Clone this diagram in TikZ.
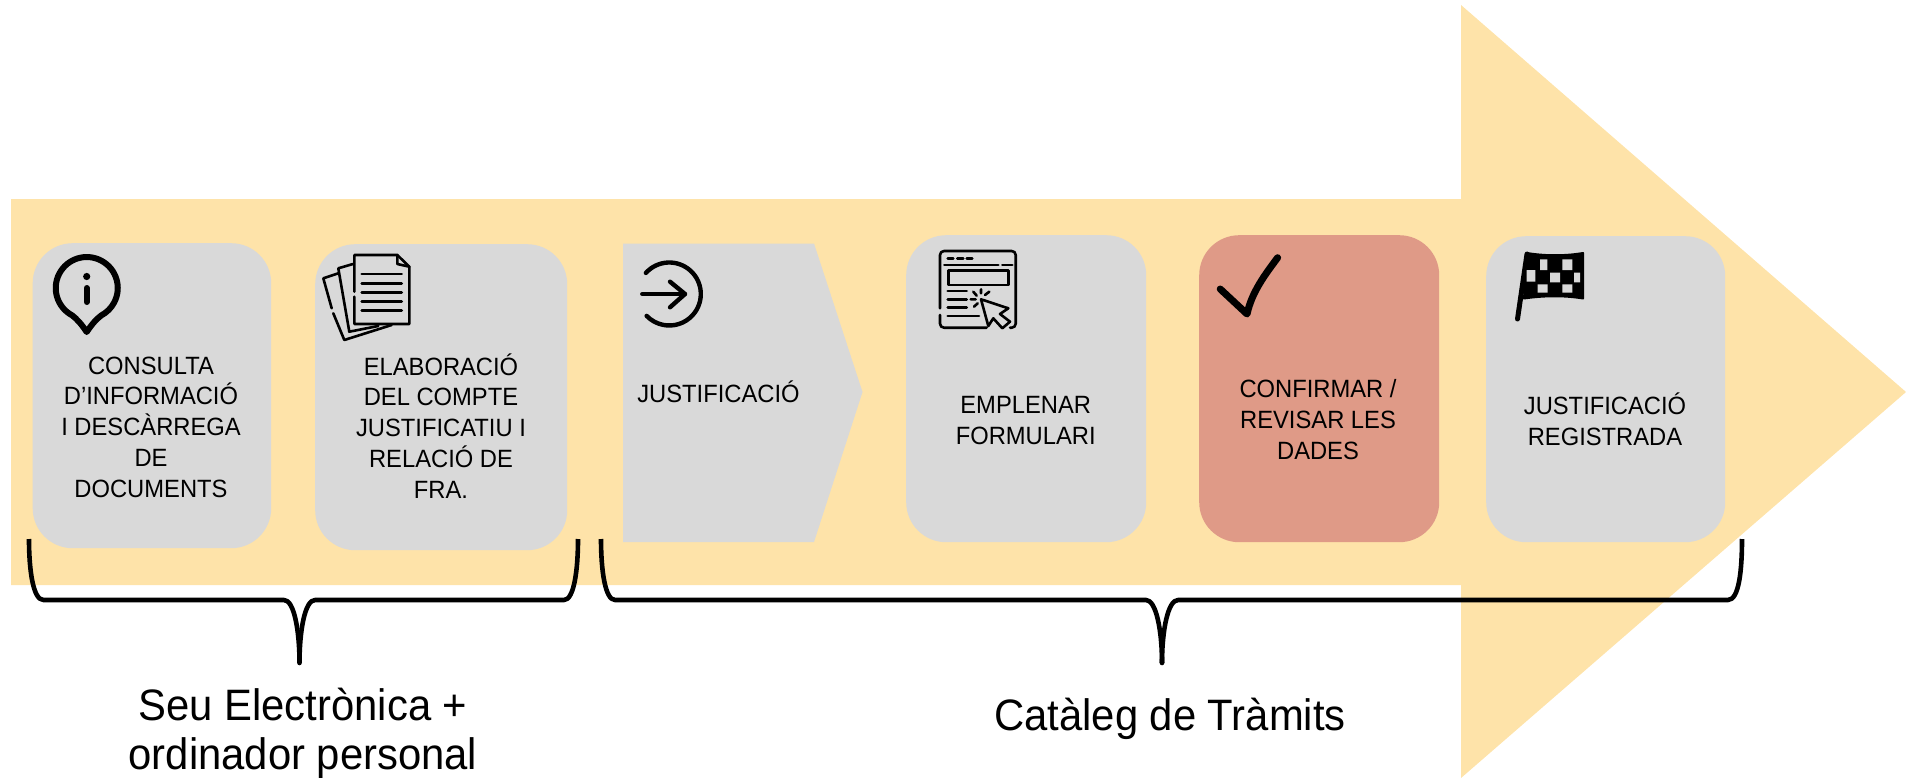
\documentclass[tikz,border=0pt]{standalone}
\usepackage{fontspec}
\setmainfont{Liberation Sans}[FakeStretch=0.95]
\definecolor{arrowcol}{HTML}{FEE3A9}
\definecolor{boxgray}{HTML}{D9D9D9}
\definecolor{boxred}{HTML}{DF9A87}
\tikzset{
  stepbox/.style={fill=boxgray,draw=none,rounded corners=40pt,inner sep=0pt,anchor=north west},
  steptext/.style={align=center,inner sep=0pt,anchor=base,font=\fontsize{25}{30.75}\selectfont},
  biglabel/.style={align=center,inner sep=0pt,anchor=base,font=\fontsize{44}{49}\selectfont},
  bracket/.style={draw=black,line width=4.6pt,line join=round},
  iconthin/.style={draw=black,line width=2.6pt,line cap=round,line join=round},
  iconthick/.style={draw=black,line width=4.4pt,line cap=round,line join=round},
}
\begin{document}
\begin{tikzpicture}[x=1pt,y=-1pt]
\useasboundingbox (0,0) rectangle (1910,778);
% big arrow
\fill[arrowcol] (11,199) -- (1461,199) -- (1461,5) -- (1906,392) -- (1461,778) -- (1461,585) -- (11,585) -- cycle;
% boxes
\node[stepbox,minimum width=238.5pt,minimum height=305pt] (b1) at (32.5,243) {};
\node[stepbox,minimum width=252pt,minimum height=306pt] (b2) at (315,244) {};
\fill[boxgray] (623,243.5) -- (814,243.5) -- (862.5,392) -- (814,542) -- (623,542) -- cycle;
\node[stepbox,minimum width=240pt,minimum height=307pt] (b4) at (906,235) {};
\node[stepbox,fill=boxred,minimum width=240pt,minimum height=307pt] (b5) at (1199,235) {};
\node[stepbox,minimum width=239pt,minimum height=306pt] (b6) at (1486,236) {};
% texts
\node[steptext] (t1) at (151,497) {CONSULTA\\D’INFORMACIÓ\\I DESCÀRREGA\\DE\\DOCUMENTS};
\node[steptext] (t2) at (441,498) {ELABORACIÓ\\DEL COMPTE\\JUSTIFICATIU I\\RELACIÓ DE\\FRA.};
\node[steptext] (t3) at (718.5,402) {JUSTIFICACIÓ};
\node[steptext] (t4) at (1025.7,444) {EMPLENAR\\FORMULARI};
\node[steptext] (t5) at (1318,459) {CONFIRMAR /\\REVISAR LES\\DADES};
\node[steptext] (t6) at (1605,445) {JUSTIFICACIÓ\\REGISTRADA};
% braces
\draw[bracket,line cap=butt] (29,539) .. controls (29,570) and (33,600) .. (43.5,600) -- (284,600)
  .. controls (294,600) and (299.5,630) .. (299.5,663);
\draw[bracket,line cap=butt] (578,539) .. controls (578,570) and (574,600) .. (564,600) -- (315,600)
  .. controls (305,600) and (299.5,630) .. (299.5,663);
\draw[bracket,line cap=butt] (601,539) .. controls (601,570) and (605,600) .. (615,600) -- (1146,600)
  .. controls (1156,600) and (1162,630) .. (1162,663);
\draw[bracket,line cap=butt] (1742,539) .. controls (1742,570) and (1739,600) .. (1728,600) -- (1178,600)
  .. controls (1168,600) and (1162,630) .. (1162,663);
\fill (299.5,663) circle (2.3pt);
\fill (1162,663) circle (2.3pt);
% big labels
\node[biglabel] (l1) at (303,769) {Seu Electrònica +\\ordinador personal};
\node[biglabel] (l2) at (1170,730) {Catàleg de Tràmits};
% info icon
\begin{scope}[shift={(86.7,288)},x=1pt,y=1pt]
  \draw[draw=black,line width=6pt,line join=round] (-14.5,-27.4) arc[start angle=242,end angle=-62,radius=31]
    .. controls (10,-31) and (6,-35) .. (0,-44) .. controls (-6,-35) and (-10,-31) .. cycle;
  \fill (0,11.5) circle (3.6pt);
  \draw[draw=black,line width=6pt,line cap=round] (0,0) -- (0,-14);
\end{scope}
% documents icon
\draw[iconthin] (354.3,291.7) -- (354.3,255) -- (397.3,255) -- (409.3,266.7) -- (409.3,324) -- (354.3,324) -- (354.3,296.7);
\draw[iconthin] (397.3,255) -- (397.3,264) -- (409.3,266.7);
\foreach \yy in {274,283.3,292.3,301.7,310.7} \draw[iconthin] (361.7,\yy) -- (401.7,\yy);
\draw[iconthin] (353,264) -- (338.3,268.3) -- (349.3,331.7) -- (378.3,326);
\draw[iconthin] (338.3,273.3) -- (323.3,278.3) -- (331.7,308.3);
\draw[iconthin] (333.3,313.3) -- (344.3,340) -- (391.7,325);
% arrow-in icon
\begin{scope}[shift={(669.3,294)},x=1pt,y=1pt]
  \draw[iconthick] (138:31.5) arc[start angle=138,end angle=-136,radius=31.5];
\end{scope}
\draw[iconthick] (642.3,294) -- (685,294);
\draw[iconthick] (670,281.7) -- (685,294) -- (670,307.3);
% form icon
\draw[iconthin,rounded corners=4pt] (940,308.3) -- (940,251) -- (1015.7,251) -- (1015.7,327.7) -- (1010,327.7);
\draw[iconthin,rounded corners=4pt] (940,315) -- (940,327.7) -- (986.7,327.7);
\draw[iconthin] (947.7,258.3) -- (953.3,258.3) (957.3,258.3) -- (963.3,258.3) (966.7,258.3) -- (972.3,258.3);
\draw[iconthin] (944.3,265) -- (998.3,265) (1002.3,265) -- (1012.3,265);
\draw[iconthin] (948.3,270.7) rectangle (1008.3,285);
\draw[iconthin] (947.7,291) -- (966.7,291) (947.7,299.3) -- (966.7,299.3) (947.7,307.3) -- (966.7,307.3) (947.7,316) -- (979,316);
\draw[iconthin] (981,289.3) -- (981,293.3) (985,295) -- (989.3,291.7) (973.3,291.7) -- (976.7,295.7) (970.7,299.3) -- (975.7,299.3) (974,306.7) -- (977.7,303.3);
\draw[iconthin] (981,299.3) -- (1008.3,308.3) -- (1000,314) -- (1010,321.7) -- (1002.3,328.3) -- (993.3,318.3) -- (988.3,326) -- cycle;
% check icon
\draw[draw=black,line width=7pt,line cap=round,line join=round] (1220.2,289) -- (1247,314) .. controls (1252,292) and (1264,276) .. (1277.6,257.7);
% flag icon
\fill[black,line join=round,draw=black,line width=2pt] (1527,253) .. controls (1545,256) and (1565,256) .. (1583,253) -- (1583,298.5) .. controls (1565,295.5) and (1545,295.5) .. (1524,298.5) -- cycle;
\draw[draw=black,line width=5pt,line cap=round] (1527,254) -- (1517.5,319);
\fill[boxgray] (1540,259.3) rectangle (1547.3,270) (1562.3,259.3) rectangle (1572.3,270) (1526.7,270) rectangle (1535.3,281.7) (1550,272.7) rectangle (1560,282.3) (1574,272.7) rectangle (1580,282.3) (1537.7,284.3) rectangle (1547.7,292.7) (1562.3,284.3) rectangle (1572.3,292.7);
\end{tikzpicture}
\end{document}
